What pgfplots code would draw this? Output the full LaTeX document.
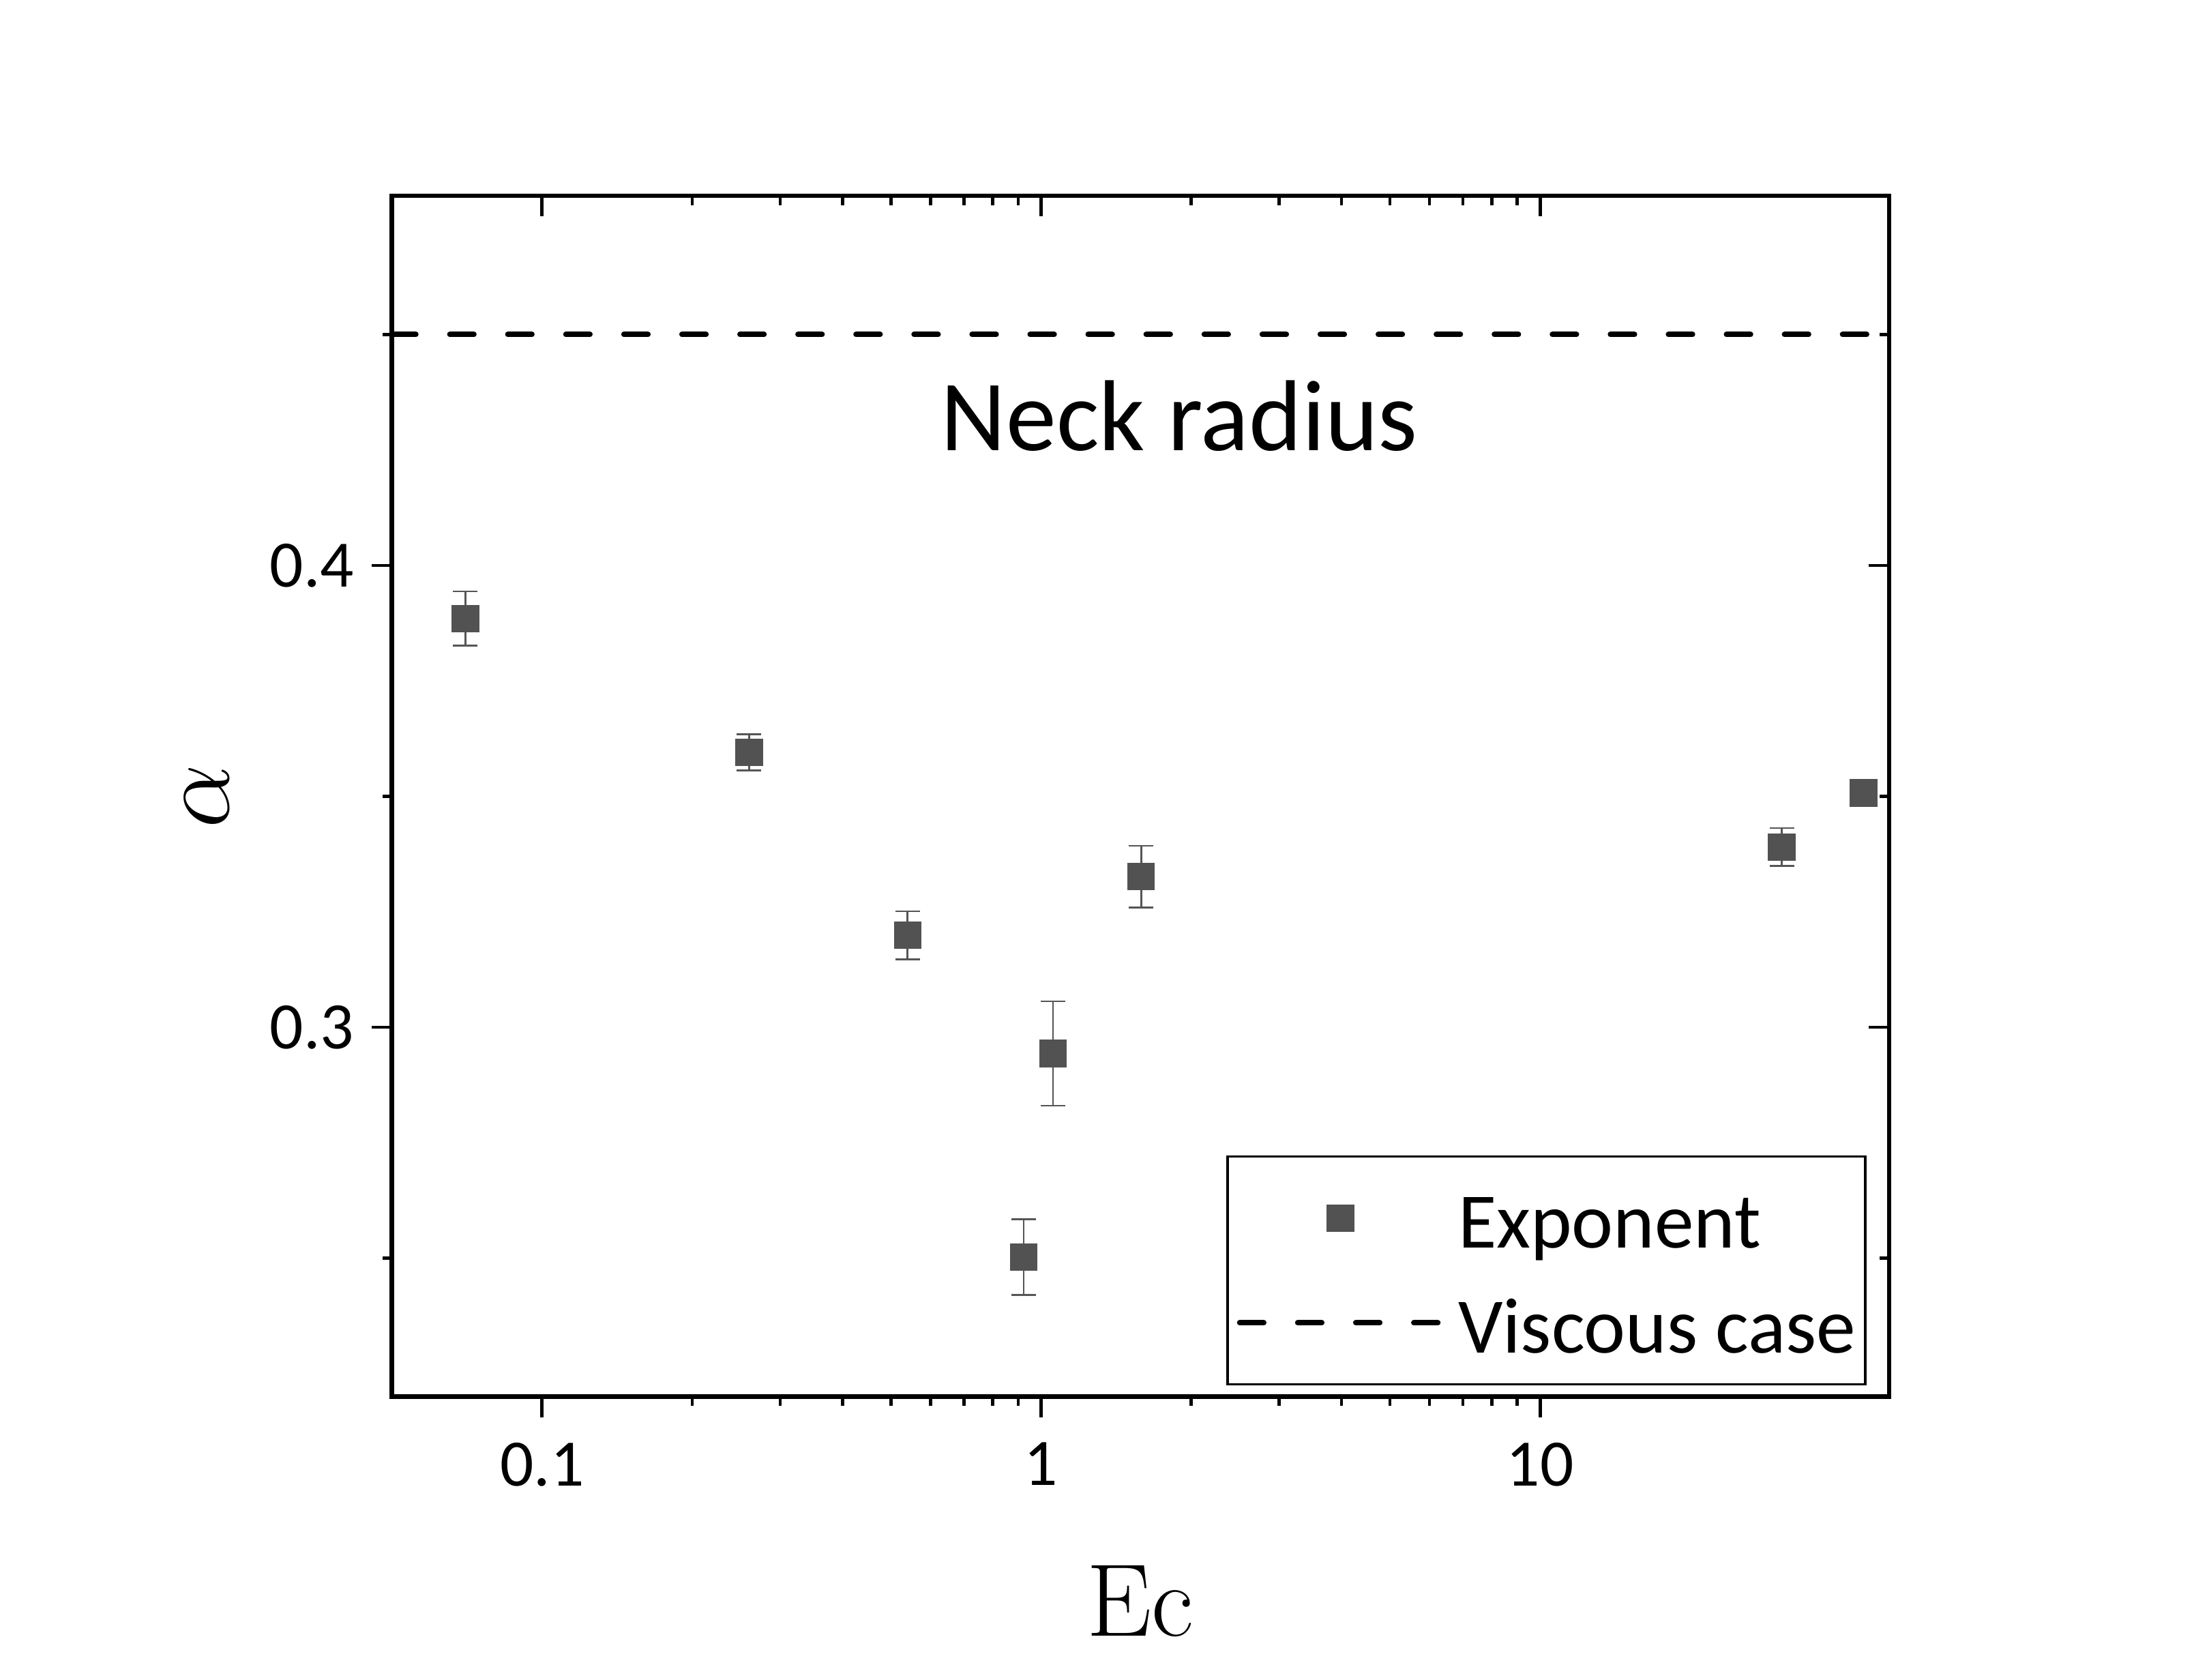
\documentclass[border=0pt]{standalone}
\usepackage[no-math]{fontspec}
\usepackage{pgfplots}
\pgfplotsset{compat=1.18}
\newfontfamily\carlito{Carlito}
\definecolor{markgray}{HTML}{525252}
\definecolor{bargray}{HTML}{555555}

\pgfplotsset{
  viscleg/.style={legend image code/.code={\draw[##1] (0cm,0cm) -- (1.43cm,0cm);}},
  markleg/.style={legend image code/.code={%
    \draw[mark repeat=2, mark phase=2, ##1] plot coordinates {(0cm,0cm) (0.72cm,0cm) (1.43cm,0cm)};}},
}

\pgfplotstableread{
x      y       e
0.0702 0.3885  0.0059
0.260  0.3595  0.0039
0.540  0.3199  0.0052
0.923  0.2502  0.0082
1.056  0.2943  0.0113
1.587  0.3326  0.0067
30.5   0.3390  0.0041
44.5   0.3507  0.0
}\exponent

\begin{document}
\begin{tikzpicture}
\path[use as bounding box] (-2.80,-2.02) rectangle (12.88,9.98);
\begin{semilogxaxis}[
  scale only axis, width=10.70cm, height=8.58cm,
  xmin=0.04999, xmax=50.01, ymin=0.22, ymax=0.48,
  xtick={0.1,1,10}, ytick={0.3,0.4}, minor ytick={0.25,0.35,0.45},
  major tick length=0.146cm, minor tick length=0.065cm,
  major tick style={black, line width=0.65pt},
  minor tick style={black, line width=0.65pt},
  axis line style={line width=0.9pt},
  tick align=outside, xtick pos=bottom, ytick pos=left,
  xticklabels={0.1,1,10}, yticklabels={0.3,0.4},
  tick label style={font=\carlito\fontsize{13.5}{16}\selectfont},
  xticklabel style={yshift=-0.06cm},
  xlabel={\fontsize{21}{25}\selectfont Ec},
  ylabel={\fontsize{20.74}{25}\selectfont$\alpha$},
  xlabel style={at={(rel axis cs:0.5,0)}, anchor=center, yshift=-1.46cm},
  ylabel style={at={(rel axis cs:0,0.5)}, anchor=center, yshift=1.32cm},
  legend cell align=left,
  legend style={at={(rel axis cs:0.985,0.0093)}, anchor=south east,
    draw=black, line width=0.5pt, inner xsep=1.9pt, inner ysep=5pt,
    row sep=6.3pt, column sep=3.2pt,
    nodes={inner xsep=0pt, inner ysep=0pt, text height=13.6pt, text depth=1.4pt},
    font=\carlito\fontsize{16}{19}\selectfont},
]
\addplot+[only marks, mark=square*, mark size=2.7pt, markleg,
  mark options={fill=markgray, draw=markgray, line width=0.2pt},
  error bars/.cd, y dir=both, y explicit,
  error bar style={bargray, line width=0.35pt},
  error mark options={rotate=90, mark size=2.5pt, bargray, line width=0.35pt}]
  table[x=x, y=y, y error=e] {\exponent};
\addlegendentry{Exponent}
\addplot[black, line width=1.1pt, line cap=round,
  dash pattern=on 4.9pt off 6.9pt, viscleg]
  coordinates {(0.04999,0.45) (50.01,0.45)};
\addlegendentry{Viscous case}
\node at (rel axis cs:0.526,0.817) {\carlito\fontsize{20.5}{24}\selectfont Neck radius};
\end{semilogxaxis}
\begin{semilogxaxis}[
  scale only axis, width=10.70cm, height=8.58cm,
  xmin=0.04999, xmax=50.01, ymin=0.22, ymax=0.48,
  xtick={0.1,1,10}, ytick={0.3,0.4}, minor ytick={0.25,0.35,0.45},
  major tick length=0.146cm, minor tick length=0.065cm,
  major tick style={black, line width=0.65pt},
  minor tick style={black, line width=0.65pt},
  axis line style={line width=0.9pt},
  tick align=inside, xtick pos=top, ytick pos=right,
  xticklabels={}, yticklabels={}]
\end{semilogxaxis}
\end{tikzpicture}
\end{document}
